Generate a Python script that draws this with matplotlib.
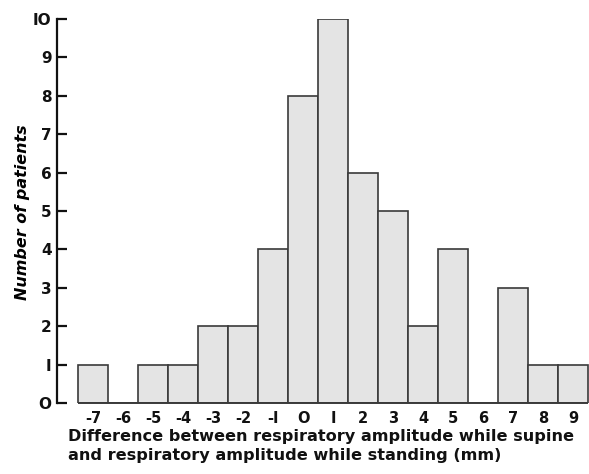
import numpy as np
import matplotlib
matplotlib.use('Agg')
from matplotlib import pyplot as plt

# histogram of differences (mm) and patient counts
diffs = [-7, -6, -5, -4, -3, -2, -1, 0, 1, 2, 3, 4, 5, 6, 7, 8, 9]
counts = [1, 0, 1, 1, 2, 2, 4, 8, 10, 6, 5, 2, 4, 0, 3, 1, 1]
ytick_vals = list(range(0, 11))
xlabels = ['-7', '-6', '-5', '-4', '-3', '-2', '-I', 'O', 'I', '2', '3', '4', '5', '6', '7', '8', '9']
ylabels = ['O', 'I', '2', '3', '4', '5', '6', '7', '8', '9', 'IO']

plt.rcParams['font.family'] = ['DejaVu Sans']

fig = plt.figure(figsize=(5.89, 4.74), dpi=100)
ax = fig.add_axes([0.0968, 0.1498, 0.9032, 0.8102])

ax.bar(diffs, counts, width=1.0, color='#e4e4e4', edgecolor='#3a3a3a', linewidth=1.2)
# baseline under the bars (visible where a count is zero)
ax.hlines(0, diffs[0] - 0.5, diffs[-1] + 0.5, color='#3a3a3a', linewidth=1.4, clip_on=False)

ax.set_xlim(-8.2, 9.53)
ax.set_ylim(0, 10)

for s in ['top', 'right', 'bottom']:
    ax.spines[s].set_visible(False)
ax.spines['left'].set_linewidth(1.6)
ax.spines['left'].set_color('#111111')

ax.set_yticks(ytick_vals)
ax.set_yticklabels(ylabels, fontsize=11, fontweight='bold')
ax.tick_params(axis='y', direction='in', length=7, width=1.6, pad=4, colors='#111111')

ax.set_xticks(diffs)
ax.set_xticklabels(xlabels, fontsize=10.5, fontweight='bold')
ax.tick_params(axis='x', length=0, pad=6, colors='#111111')

ax.set_ylabel('Number of patients', fontsize=11.5, fontweight='bold', style='italic')
ax.yaxis.set_label_coords(-0.051, 0.497)

# two-line x label, left aligned under the bars
ax.text(0.0207, -0.068,
        'Difference between respiratory amplitude while supine\n'
        'and respiratory amplitude while standing (mm)',
        transform=ax.transAxes, ha='left', va='top', multialignment='left',
        fontsize=11.6, fontweight='bold', linespacing=1.3, color='#111111')

plt.savefig('out.png', dpi=100)
